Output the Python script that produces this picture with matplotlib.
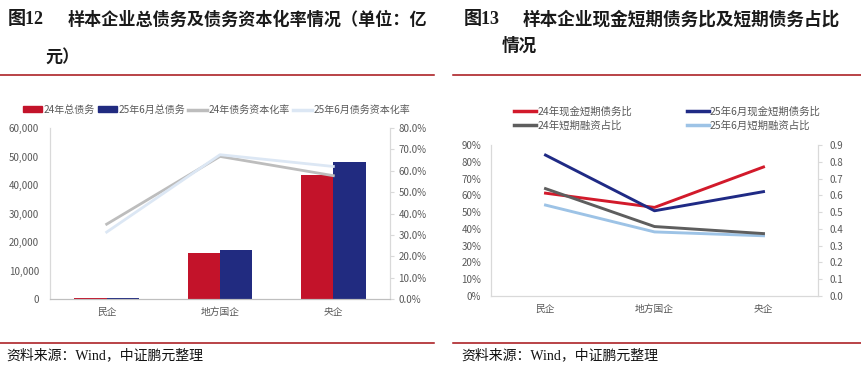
import matplotlib
matplotlib.use("Agg")
import matplotlib.pyplot as plt
from matplotlib.lines import Line2D
from matplotlib.patches import Patch
from matplotlib.ticker import FuncFormatter, MultipleLocator
import numpy as np

plt.rcParams['font.family'] = ['Noto Sans CJK SC', 'DejaVu Sans']

# ---- data ----
categories = ['民企', '地方国企', '央企']
# Figure 12
debt_24 = [230, 16300, 43500]
debt_25h1 = [260, 17300, 48200]
cap_rate_24 = [35.0, 66.7, 57.7]
cap_rate_25h1 = [31.3, 67.5, 62.0]
# Figure 13
cash_st_24 = [61.3, 52.8, 76.9]
cash_st_25h1 = [84.0, 50.8, 62.2]
st_share_24 = [64.0, 41.4, 37.2]
st_share_25h1 = [54.2, 38.2, 35.9]

W, H = 861, 371
fig = plt.figure(figsize=(W / 100, H / 100), dpi=100)

def rect(x0, y0, x1, y1):
    return [x0 / W, 1 - y1 / H, (x1 - x0) / W, (y1 - y0) / H]

def fx(x):
    return x / W

def fy(y):
    return 1 - y / H

TICK_C = '#595959'
TICK_FS = 7.0
RED_RULE = '#A50F15'
title_font = ['Liberation Serif', 'Noto Sans CJK SC']

# ---- titles ----
fig.text(fx(8), fy(20), '图12', fontsize=13, fontweight='bold', family=title_font,
         va='center', ha='left', color='#1a1a1a')
fig.text(fx(68), fy(20), '样本企业总债务及债务资本化率情况（单位：亿', fontsize=12.3,
         fontweight='bold', va='center', ha='left', color='#1a1a1a')
fig.text(fx(45), fy(57), '元）', fontsize=12.3, fontweight='bold', va='center', ha='left',
         color='#1a1a1a')

fig.text(fx(464), fy(20), '图13', fontsize=13, fontweight='bold', family=title_font,
         va='center', ha='left', color='#1a1a1a')
fig.text(fx(523), fy(20), '样本企业现金短期债务比及短期债务占比', fontsize=12.7,
         fontweight='bold', va='center', ha='left', color='#1a1a1a')
fig.text(fx(502), fy(46), '情况', fontsize=12.7, fontweight='bold', va='center', ha='left',
         color='#1a1a1a')

# rules
for (x0, x1) in [(0, 434), (453, 861)]:
    fig.add_artist(Line2D([fx(x0), fx(x1)], [fy(75), fy(75)], color=RED_RULE, lw=1.1))
    fig.add_artist(Line2D([fx(x0), fx(x1)], [fy(343), fy(343)], color=RED_RULE, lw=1.1))

fig.text(fx(6), fy(355), '资料来源：Wind，中证鹏元整理', fontsize=10, family=title_font,
         va='center', ha='left', color='#111111')
fig.text(fx(461), fy(355), '资料来源：Wind，中证鹏元整理', fontsize=10, family=title_font,
         va='center', ha='left', color='#111111')

# ---- Figure 12 ----
C_RED = '#C3132A'
C_NAVY = '#212B80'
C_GRAY = '#BDBDBD'
C_LBLUE = '#DCE7F4'

ax = fig.add_axes(rect(50, 128, 390, 299))
x = np.arange(len(categories))
bw = 0.285
ax.bar(x - bw / 2, debt_24, bw, color=C_RED, zorder=2)
ax.bar(x + bw / 2, debt_25h1, bw, color=C_NAVY, zorder=2)
ax.set_xlim(-0.5, 2.5)
ax.set_ylim(0, 60000)
ax.yaxis.set_major_locator(MultipleLocator(10000))
ax.yaxis.set_major_formatter(FuncFormatter(lambda v, p: f'{int(v):,}'))
ax.set_xticks(x)
ax.set_xticklabels(categories)
ax2 = ax.twinx()
ax2.plot(x, cap_rate_24, color=C_GRAY, lw=2.0, zorder=3)
ax2.plot(x, cap_rate_25h1, color=C_LBLUE, lw=2.0, zorder=3)
ax2.set_ylim(0, 80)
ax2.yaxis.set_major_locator(MultipleLocator(10))
ax2.yaxis.set_major_formatter(FuncFormatter(lambda v, p: f'{v:.1f}%'))

for a in (ax, ax2):
    a.spines['top'].set_visible(False)
    a.spines['left'].set_color('#D9D9D9')
    a.spines['right'].set_color('#D9D9D9')
    a.spines['bottom'].set_color('#BFBFBF')
    a.tick_params(colors=TICK_C, labelsize=TICK_FS)
ax.tick_params(axis='y', length=0, pad=8)
ax.tick_params(axis='x', length=0, pad=6)
ax2.tick_params(axis='y', length=3, color='#D9D9D9', pad=3)

h1 = [Patch(color=C_RED), Patch(color=C_NAVY),
      Line2D([], [], color=C_GRAY, lw=2.5), Line2D([], [], color=C_LBLUE, lw=2.5)]
l1 = ['24年总债务', '25年6月总债务', '24年债务资本化率', '25年6月债务资本化率']
leg = fig.legend(h1, l1, loc='center', bbox_to_anchor=(fx(217), fy(110)), ncol=4,
                 frameon=False, fontsize=7.2, handlelength=1.9, handleheight=0.55,
                 handletextpad=0.15, columnspacing=0.3, borderpad=0)
for t in leg.get_texts():
    t.set_color(TICK_C)

# ---- Figure 13 ----
R_RED = '#D21A2B'
R_NAVY = '#1F2A85'
R_DGRAY = '#5E5E5E'
R_LBLUE = '#9DC3E6'

bx = fig.add_axes(rect(491, 145, 818, 296))
bx.plot(x, cash_st_24, color=R_RED, lw=2.1, zorder=3)
bx.plot(x, cash_st_25h1, color=R_NAVY, lw=2.1, zorder=4)
bx.plot(x, st_share_24, color=R_DGRAY, lw=2.1, zorder=3)
bx.plot(x, st_share_25h1, color=R_LBLUE, lw=2.1, zorder=2)
bx.set_xlim(-0.5, 2.5)
bx.set_ylim(0, 90)
bx.yaxis.set_major_locator(MultipleLocator(10))
bx.yaxis.set_major_formatter(FuncFormatter(lambda v, p: f'{int(round(v))}%'))
bx.set_xticks(x)
bx.set_xticklabels(categories)
bx2 = bx.twinx()
bx2.set_ylim(0, 0.9)
bx2.set_yticks(np.arange(0, 0.91, 0.1))
bx2.yaxis.set_major_formatter(FuncFormatter(lambda v, p: f'{v:.1f}'))
for a in (bx, bx2):
    a.spines['top'].set_visible(False)
    a.spines['left'].set_color('#D9D9D9')
    a.spines['right'].set_color('#D9D9D9')
    a.spines['bottom'].set_color('#D9D9D9')
    a.tick_params(colors=TICK_C, labelsize=TICK_FS)
bx.tick_params(axis='y', length=0, pad=7)
bx.tick_params(axis='x', length=0, pad=6)
bx2.tick_params(axis='y', length=3, color='#D9D9D9', pad=5)

h2 = [Line2D([], [], color=R_RED, lw=2.5), Line2D([], [], color=R_DGRAY, lw=2.5),
      Line2D([], [], color=R_NAVY, lw=2.5), Line2D([], [], color=R_LBLUE, lw=2.5)]
l2 = ['24年现金短期债务比', '24年短期融资占比', '25年6月现金短期债务比', '25年6月短期融资占比']
leg2 = fig.legend(h2, l2, loc='upper left', bbox_to_anchor=(fx(509), fy(101)), ncol=2,
                  frameon=False, fontsize=7.5, handlelength=2.1, handletextpad=0.1,
                  columnspacing=5.3, labelspacing=0.4, borderpad=0)
for t in leg2.get_texts():
    t.set_color(TICK_C)

fig.savefig('out.png', dpi=100)
